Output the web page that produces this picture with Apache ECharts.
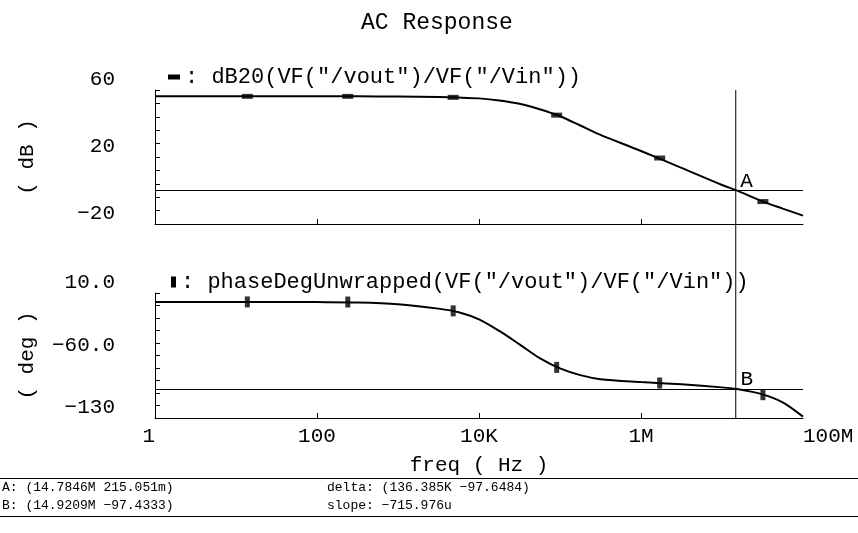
<!DOCTYPE html>
<html>
<head>
<meta charset="utf-8">
<script src="https://cdn.jsdelivr.net/npm/echarts@6/dist/echarts.min.js"></script>
<style>
  html, body { margin: 0; padding: 0; background: #fff; }
  #chart { width: 858px; height: 533px; }
</style>
</head>
<body>
<div id="chart"></div>
<script>
// sweep points (Hz) and values
const freqHz = [1, 3.16, 10, 31.6, 100, 316, 1e3, 3.16e3, 5.62e3, 1e4, 1.78e4, 3.16e4,
  5.62e4, 1e5, 1.78e5, 3.16e5, 1e6, 3.16e6, 1e7, 1.48e7, 3.16e7, 5.62e7, 1e8];
const gainDb = [56.2, 56.2, 56.2, 56.2, 56.2, 56.2, 56.1, 55.8, 55.5, 55.0, 53.8, 51.8,
  48.5, 44.3, 38.8, 33.2, 23.6, 13.5, 3.3, 0.2, -6.5, -10.8, -15.0];
const phaseDeg = [0, 0, 0, 0, -0.2, -0.6, -2.5, -7.5, -11.5, -19.5, -32.5, -47.5,
  -63, -74.5, -82, -86.5, -89.7, -92.3, -95.7, -97.4, -103.5, -112.5, -128.5];

// little curve markers
const markFreq = [13.8, 240, 4.8e3, 9.1e4, 1.7e6, 3.2e7];
const markGain = [56.2, 56.2, 55.6, 45.0, 19.4, -6.6];
const markPhase = [0, -0.1, -10.0, -73.3, -90.8, -103.9];

// cursors A and B
const cursorA = [14.7846e6, 0.215051];
const cursorB = [14.9209e6, -97.4333];

// axis ticks / labels
const freqTicks = [1, 100, 1e4, 1e6];
const freqLabelValues = [1, 100, 1e4, 1e6, 1e8];
const freqTickLabels = ['1', '100', '10K', '1M', '100M'];
const gainTicks = [-20, -12, -4, 4, 12, 20, 28, 36, 44, 52, 60];
const gainLabelValues = [-20, 20, 60];
const gainLabels = ['\u221220', '20', '60'];
const phaseTicks = [-130, -116, -102, -88, -74, -60, -46, -32, -18, -4, 10];
const phaseLabelValues = [-130, -60, 10];
const phaseLabels = ['\u2212130', '\u221260.0', '10.0'];

const readoutLeft = ['A: (14.7846M 215.051m)', 'B: (14.9209M \u221297.4333)'];
const readoutRight = ['delta: (136.385K \u221297.6484)', 'slope: \u2212715.976u'];

const gainName = 'dB20(VF("/vout")/VF("/Vin"))';
const phaseName = 'phaseDegUnwrapped(VF("/vout")/VF("/Vin"))';

const FONT = 'Liberation Mono';
const INK = '#000';

const chart = echarts.init(document.getElementById('chart'));

const xAxisBase = (gridIndex, showLabels) => ({
  type: 'log',
  logBase: 10,
  gridIndex,
  min: 1,
  max: 1e8,
  axisLine: { onZero: false, lineStyle: { color: INK, width: 1 } },
  axisTick: { inside: true, length: 5, lineStyle: { color: INK }, customValues: freqTicks },
  splitLine: { show: false },
  minorTick: { show: false },
  axisLabel: {
    show: showLabels,
    customValues: freqLabelValues,
    color: INK,
    fontFamily: FONT,
    fontSize: 21,
    margin: 8,
    alignMinLabel: 'right',
    alignMaxLabel: 'left',
    formatter: (v) => freqTickLabels[Math.round(Math.log10(v) / 2)],
  },
});

const yAxisBase = (gridIndex, min, max, ticks, labelValues, labels, name) => ({
  type: 'value',
  gridIndex,
  min,
  max,
  name,
  nameLocation: 'middle',
  nameRotate: 90,
  nameGap: 117,
  nameTextStyle: { color: INK, fontFamily: FONT, fontSize: 21 },
  axisLine: { show: true, onZero: false, lineStyle: { color: INK, width: 1 } },
  axisTick: { inside: true, length: 5, lineStyle: { color: INK }, customValues: ticks },
  splitLine: { show: false },
  axisLabel: {
    customValues: labelValues,
    color: INK,
    fontFamily: FONT,
    fontSize: 21,
    margin: 40,
    verticalAlign: 'bottom',
    formatter: (v) => labels[labelValues.indexOf(v)],
  },
});

const option = {
  backgroundColor: '#fff',
  animation: false,
  title: {
    text: 'AC Response',
    left: 356,
    top: 6,
    textStyle: { color: INK, fontFamily: FONT, fontSize: 23, fontWeight: 'normal' },
  },
  legend: [
    {
      data: [gainName],
      left: 163,
      top: 61,
      icon: 'rect',
      itemWidth: 12,
      itemHeight: 5,
      selectedMode: false,
      formatter: ': {name}',
      textStyle: { color: INK, fontFamily: FONT, fontSize: 22 },
    },
    {
      data: [phaseName],
      left: 166,
      top: 266,
      icon: 'rect',
      itemWidth: 5,
      itemHeight: 11,
      selectedMode: false,
      formatter: ': {name}',
      textStyle: { color: INK, fontFamily: FONT, fontSize: 22 },
    },
  ],
  grid: [
    { left: 155, top: 90, width: 648, height: 134 },
    { left: 155, top: 293, width: 648, height: 125 },
  ],
  xAxis: [
    xAxisBase(0, false),
    Object.assign(xAxisBase(1, true), {
      name: 'freq ( Hz )',
      nameLocation: 'middle',
      nameGap: 37,
      nameTextStyle: { color: INK, fontFamily: FONT, fontSize: 21 },
    }),
  ],
  yAxis: [
    yAxisBase(0, -20, 60, gainTicks, gainLabelValues, gainLabels, '( dB )'),
    yAxisBase(1, -130, 10, phaseTicks, phaseLabelValues, phaseLabels, '( deg )'),
  ],
  series: [
    {
      name: gainName,
      type: 'line',
      xAxisIndex: 0,
      yAxisIndex: 0,
      data: freqHz.map((f, i) => [f, gainDb[i]]),
      showSymbol: false,
      smooth: 0.3,
      color: INK,
      lineStyle: { color: INK, width: 2 },
      markLine: {
        silent: true,
        symbol: 'none',
        label: { show: false },
        lineStyle: { color: INK, width: 1, type: 'solid' },
        data: [{ yAxis: cursorA[1] }],
      },
      markPoint: {
        symbol: 'rect',
        symbolSize: 1,
        itemStyle: { color: 'rgba(0,0,0,0)' },
        label: { show: true, formatter: 'A', position: [5, -19], color: INK, fontFamily: FONT, fontSize: 21 },
        data: [{ coord: cursorA }],
      },
    },
    {
      name: 'gainMarks',
      type: 'scatter',
      xAxisIndex: 0,
      yAxisIndex: 0,
      symbol: 'rect',
      symbolSize: [11, 5],
      itemStyle: { color: INK },
      data: markFreq.map((f, i) => [f, markGain[i]]),
    },
    {
      name: phaseName,
      type: 'line',
      xAxisIndex: 1,
      yAxisIndex: 1,
      data: freqHz.map((f, i) => [f, phaseDeg[i]]),
      showSymbol: false,
      smooth: 0.3,
      color: INK,
      lineStyle: { color: INK, width: 2 },
      markLine: {
        silent: true,
        symbol: 'none',
        label: { show: false },
        lineStyle: { color: INK, width: 1, type: 'solid' },
        data: [{ yAxis: cursorB[1] }],
      },
      markPoint: {
        symbol: 'rect',
        symbolSize: 1,
        itemStyle: { color: 'rgba(0,0,0,0)' },
        label: { show: true, formatter: 'B', position: [5, -19], color: INK, fontFamily: FONT, fontSize: 21 },
        data: [{ coord: cursorB }],
      },
    },
    {
      name: 'phaseMarks',
      type: 'scatter',
      xAxisIndex: 1,
      yAxisIndex: 1,
      symbol: 'rect',
      symbolSize: [5, 11],
      itemStyle: { color: INK },
      data: markFreq.map((f, i) => [f, markPhase[i]]),
    },
  ],
};

chart.setOption(option);

// cursor line runs through both panels, so place it from the axes' own scales
const cx = chart.convertToPixel({ xAxisIndex: 0 }, cursorA[0]);
const cyTop = chart.convertToPixel({ yAxisIndex: 0 }, 60);
const cyBot = chart.convertToPixel({ yAxisIndex: 1 }, -130);

const readoutStyle = { fill: INK, font: '13px "' + FONT + '"' };
chart.setOption({
  graphic: [
    { type: 'line', shape: { x1: cx, y1: cyTop, x2: cx, y2: cyBot }, style: { stroke: INK, lineWidth: 1 } },
    { type: 'line', shape: { x1: 0, y1: 478.5, x2: 858, y2: 478.5 }, style: { stroke: INK, lineWidth: 1 } },
    { type: 'line', shape: { x1: 0, y1: 516.5, x2: 858, y2: 516.5 }, style: { stroke: INK, lineWidth: 1 } },
    { type: 'text', left: 2, top: 481, style: Object.assign({ text: readoutLeft[0] }, readoutStyle) },
    { type: 'text', left: 2, top: 499, style: Object.assign({ text: readoutLeft[1] }, readoutStyle) },
    { type: 'text', left: 327, top: 481, style: Object.assign({ text: readoutRight[0] }, readoutStyle) },
    { type: 'text', left: 327, top: 499, style: Object.assign({ text: readoutRight[1] }, readoutStyle) },
  ],
});
</script>
</body>
</html>
